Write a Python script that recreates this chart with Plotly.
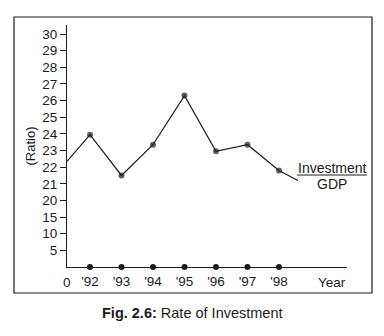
import plotly.graph_objects as go

# Investment / GDP ratio by year
years = [1992, 1993, 1994, 1995, 1996, 1997, 1998]
ratio = [23.95, 21.5, 23.35, 26.3, 22.95, 23.35, 21.8]
# line runs in from the axis and trails off past '98
lead_in = (1991.27, 22.35)
lead_out = (1998.6, 21.2)

year_labels = ["'92", "'93", "'94", "'95", "'96", "'97", "'98"]
y_tick_values = [5, 10, 15, 20, 21, 22, 23, 24, 25, 26, 27, 28, 29, 30]


def to_axis(v):
    # broken scale: steps of 5 up to 20, then steps of 1
    return v / 5 if v <= 20 else v - 16


INK = "#1c1c1c"
FONT = "Liberation Sans, Arial, sans-serif"

line_x = [lead_in[0]] + years + [lead_out[0]]
line_y = [to_axis(lead_in[1])] + [to_axis(v) for v in ratio] + [to_axis(lead_out[1])]
sizes = [0] + [6] * len(years) + [0]

fig = go.Figure()
fig.add_trace(go.Scatter(
    x=line_x, y=line_y, mode="lines+markers",
    line=dict(color=INK, width=1.2),
    marker=dict(color=INK, size=sizes, line=dict(width=0)),
    cliponaxis=False, hoverinfo="skip",
))
fig.add_trace(go.Scatter(
    x=years, y=[0] * len(years), mode="markers",
    marker=dict(color=INK, size=6, line=dict(width=0)),
    cliponaxis=False, hoverinfo="skip",
))

x0_px, x1_px, yb_px, yt_px = 67, 347, 267, 25
W, H = x1_px - x0_px, yb_px - yt_px


def px(x):
    return (x - x0_px) / W


def py(y):
    return (yb_px - y) / H


def label(text, x, y, size=13.5):
    return dict(text=text, xref="paper", yref="paper", x=px(x), y=py(y),
                xanchor="center", yanchor="middle", showarrow=False,
                font=dict(size=size))


fig.update_layout(
    width=384, height=336,
    margin=dict(l=x0_px, r=384 - x1_px, t=yt_px, b=336 - yb_px),
    paper_bgcolor="white", plot_bgcolor="white",
    showlegend=False,
    font=dict(family=FONT, color=INK, size=13.5),
    xaxis=dict(
        range=[1991.27, 2000.16], showgrid=False, zeroline=False,
        showline=True, linecolor=INK, linewidth=1.2,
        tickvals=years, ticktext=year_labels, ticks="",
        ticklabelstandoff=2,
        tickfont=dict(size=13.5, color=INK, family=FONT),
    ),
    yaxis=dict(
        range=[0, (yb_px - yt_px) / 16.64], showgrid=False, zeroline=False,
        showline=True, linecolor=INK, linewidth=1.2,
        tickvals=[to_axis(v) for v in y_tick_values],
        ticktext=[str(v) for v in y_tick_values],
        ticks="outside", ticklen=6, tickcolor=INK, tickwidth=1,
        tickfont=dict(size=13.5, color=INK, family=FONT),
        title=dict(text="(Ratio)", font=dict(size=13, color=INK, family=FONT), standoff=3),
    ),
    shapes=[
        dict(type="rect", xref="paper", yref="paper",
             x0=px(14), x1=px(372), y0=py(293), y1=py(17),
             line=dict(color=INK, width=1.2), layer="below"),
        dict(type="line", xref="paper", yref="paper",
             x0=px(297), x1=px(367), y0=py(175), y1=py(175),
             line=dict(color=INK, width=1)),
    ],
    annotations=[
        label("0", 67, 282),
        label("Year", 332, 282),
        label("Investment", 332, 168, 14),
        label("GDP", 332, 184, 14),
        label("<b>Fig. 2.6:</b> Rate of Investment", 192, 313, 14.5),
    ],
)

fig.write_html("out.html")
